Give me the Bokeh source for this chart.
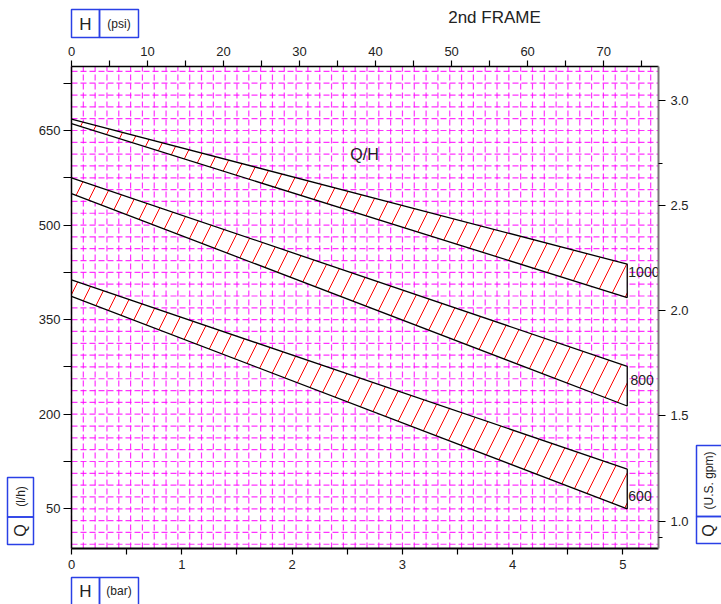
import numpy as np
from bokeh.plotting import figure
from bokeh.models import (Range1d, LinearAxis, FixedTicker, BoxAnnotation,
                          Label, ColumnDataSource, PrintfTickFormatter)
from bokeh.embed import file_html
from bokeh.resources import INLINE
from bokeh.core.properties import value

# ---------------- data ----------------
band_names = ["1000", "800", "600"]
band_end_bar = 5.04                 # pressure (bar) where the bands end
upper_start = [668, 575, 413]       # Q (l/h) at 0 bar, upper edge
upper_end = [438, 276, 113]         # Q (l/h) at band end, upper edge
lower_start = [661, 550, 387]       # Q (l/h) at 0 bar, lower edge
lower_end = [385, 213, 50]          # Q (l/h) at band end, lower edge
label_bar = [5.05, 5.07, 5.05]
label_q = [425, 255, 70]

bar_ticks = [0, 1, 2, 3, 4, 5]
bar_minor = [0.5, 1.5, 2.5, 3.5, 4.5]
psi_ticks = [0, 10, 20, 30, 40, 50, 60, 70]
psi_minor = [5, 15, 25, 35, 45, 55, 65, 75]
q_ticks = [50, 200, 350, 500, 650]
q_minor = [125, 275, 425, 575, 725]
gpm_ticks = [1.0, 1.5, 2.0, 2.5, 3.0]
gpm_minor = [0.92, 2.7]

title_text = "2nd FRAME"
curve_label = "Q/H"

# ---------------- styling / layout ----------------
FONT = "Liberation Sans"
TXT = "#222222"
BLUE = "#2a40e6"
MAGENTA = "#ff00ff"
W, H = 721, 604

# chart area (pixels inside the canvas) and its data extents
FL, FT, FW, FH = 71, 66, 587, 482
X_END = 5.3237
Y_START, Y_END = -13.0, 751.5
PSI_PER_BAR = 14.5038
GPM_START, GPM_END = 0.870, 3.1609

sx = FW / X_END                      # px per bar
sy = FH / (Y_END - Y_START)          # px per l/h
sg = FH / (GPM_END - GPM_START)      # px per gpm

XL = -FL / sx
XR = (W - FL) / sx
YT = Y_END + FT / sy
YB = Y_START - (H - FT - FH) / sy
GT = GPM_END + FT / sg
GB = GPM_START - (H - FT - FH) / sg

p = figure(width=W, height=H, min_border=0,
           x_range=Range1d(XL, XR), y_range=Range1d(YB, YT),
           x_axis_location=None, y_axis_location=None,
           output_backend="svg", toolbar_location=None)
p.outline_line_color = None
p.background_fill_color = "white"
p.border_fill_color = "white"
for g in p.grid:
    g.visible = False
p.extra_x_ranges = {"psi": Range1d(XL * PSI_PER_BAR, XR * PSI_PER_BAR)}
p.extra_y_ranges = {"gpm": Range1d(GB, GT)}

# background paper grid (square cells), limited to the chart area
gx_ticks = [float(v) for v in np.arange(0, X_END, 0.1072)]
gy_ticks = [650 - 18.75 * k for k in range(-5, 36)]
p.segment(x0=gx_ticks, y0=[Y_START] * len(gx_ticks), x1=gx_ticks, y1=[Y_END] * len(gx_ticks),
          line_color=MAGENTA, line_dash="6 3", line_width=1.2, line_alpha=0.8)
p.segment(x0=[0] * len(gy_ticks), y0=gy_ticks, x1=[X_END] * len(gy_ticks), y1=gy_ticks,
          line_color=MAGENTA, line_dash="6 3", line_width=1.2, line_alpha=0.8)

# bands
for i in range(len(band_names)):
    xs = [0, band_end_bar, band_end_bar, 0]
    ys = [upper_start[i], upper_end[i], lower_end[i], lower_start[i]]
    p.patch(xs, ys, fill_color="white", line_color=None,
            hatch_pattern="/", hatch_color="#ff0000", hatch_scale=30, hatch_weight=1)
    p.line(xs, ys, line_color="black", line_width=1.3)

src = ColumnDataSource(dict(x=label_bar, y=label_q, t=band_names))
p.text(x="x", y="y", text="t", source=src, text_font=value(FONT), text_font_size="14px",
       text_color=TXT, text_align="left", text_baseline="middle")

p.add_layout(Label(x=2.657, y=612, text=curve_label, text_font=FONT, text_font_size="16px",
                   text_color=TXT, text_align="center", text_baseline="middle"))


def style_axis(ax, tick_len, standoff, color="black", width=1.5, minor_len=None):
    ax.axis_line_color = color
    ax.axis_line_width = width
    ax.major_tick_line_color = "black"
    ax.minor_tick_line_color = "black"
    ax.major_tick_line_width = 1.2
    ax.minor_tick_line_width = 1.2
    ax.major_tick_in = 0
    ax.minor_tick_in = 0
    ax.major_tick_out = tick_len
    ax.minor_tick_out = minor_len if minor_len is not None else tick_len
    ax.major_label_standoff = standoff
    ax.major_label_text_font = FONT
    ax.major_label_text_font_size = "13px"
    ax.major_label_text_color = TXT


xb = LinearAxis(ticker=FixedTicker(ticks=bar_ticks, minor_ticks=bar_minor),
                fixed_location=Y_START, bounds=(0, X_END))
style_axis(xb, 6, 5, width=2)
p.add_layout(xb, "below")

xt = LinearAxis(x_range_name="psi", ticker=FixedTicker(ticks=psi_ticks, minor_ticks=psi_minor),
                fixed_location=Y_END, bounds=(0, X_END * PSI_PER_BAR))
style_axis(xt, 6, 5)
p.add_layout(xt, "above")

yl = LinearAxis(ticker=FixedTicker(ticks=q_ticks, minor_ticks=q_minor),
                fixed_location=0, bounds=(Y_START, Y_END))
style_axis(yl, 8, 3)
p.add_layout(yl, "left")

yr = LinearAxis(y_range_name="gpm", ticker=FixedTicker(ticks=gpm_ticks, minor_ticks=gpm_minor),
                formatter=PrintfTickFormatter(format="%.1f"),
                fixed_location=X_END, bounds=(GPM_START, GPM_END))
style_axis(yr, 7, 5, color="#777777", width=2, minor_len=4)
p.add_layout(yr, "right")


# helpers: canvas pixels -> data coordinates (for title and unit boxes)
def bx(px):
    return (px - FL) / sx


def qy(py):
    return Y_END - (py - FT) / sy


def ctext(x, y, s, size, angle=0.0):
    p.add_layout(Label(x=bx(x), y=qy(y), text=s, text_font=FONT, text_font_size=size,
                       text_color=TXT, text_align="center", text_baseline="middle",
                       angle=angle))


def cbox(l, r, t, b):
    p.add_layout(BoxAnnotation(left=bx(l), right=bx(r), top=qy(t), bottom=qy(b),
                               fill_color=None, line_color=BLUE, line_width=1.5, line_alpha=1))


ctext(494, 16.5, title_text, "17px")
# top: H (psi)
cbox(71, 99, 9, 37)
cbox(99, 138, 9, 37)
ctext(85, 23.5, "H", "17px")
ctext(118.5, 23, "(psi)", "12px")
# bottom: H (bar)
cbox(71, 99, 577, 612)
cbox(99, 138, 577, 612)
ctext(85, 591, "H", "17px")
ctext(118.5, 590, "(bar)", "12px")
# left: Q (l/h)
cbox(7, 33, 477, 516.5)
cbox(7, 33, 516.5, 544)
ctext(20, 530, "Q", "16px", np.pi / 2)
ctext(20, 496, "(l/h)", "12px", np.pi / 2)
# right: Q (U.S. gpm)
cbox(696, 730, 445, 516)
cbox(696, 730, 516, 543)
ctext(708, 530, "Q", "16px", np.pi / 2)
ctext(708, 480, "(U.S. gpm)", "12px", np.pi / 2)

open("out.html", "w").write(file_html(p, INLINE))
